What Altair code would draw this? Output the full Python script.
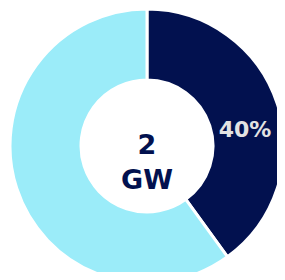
import altair as alt
import pandas as pd

categories = ["Share", "Rest"]
values = [40, 60]
labels = ["40%", ""]
colors = ["#02114f", "#9becf9"]
center_lines = ["2", "GW"]

df = pd.DataFrame({"category": categories, "value": values, "label": labels, "order": [0, 1]})

base = alt.Chart(df).encode(
    theta=alt.Theta("value:Q", stack=True),
    order=alt.Order("order:O"),
)

arc = base.mark_arc(
    outerRadius=137, innerRadius=66, stroke="white", strokeWidth=3
).encode(
    x=alt.value(139),
    y=alt.value(138),
    color=alt.Color("category:N", scale=alt.Scale(domain=categories, range=colors), legend=None),
)

lab = base.mark_text(
    radius=103, dy=16, font="DejaVu Sans", fontWeight="bold", fontSize=22, color="#e3e3e3"
).encode(
    x=alt.value(139),
    y=alt.value(138),
    text="label:N",
)

center = alt.Chart(pd.DataFrame({"t": [0]})).mark_text(
    font="DejaVu Sans", fontWeight="bold", fontSize=27, color="#02114f",
    lineHeight=35, baseline="middle", align="center"
).encode(
    x=alt.value(139),
    y=alt.value(138),
    text=alt.value(center_lines),
)

chart = alt.layer(arc, lab, center).properties(
    width=269, height=264, padding=0, autosize=alt.AutoSizeParams(type="none")
).configure_view(stroke=None)

chart.save("out.html", embed_options={"renderer": "svg", "actions": False})
